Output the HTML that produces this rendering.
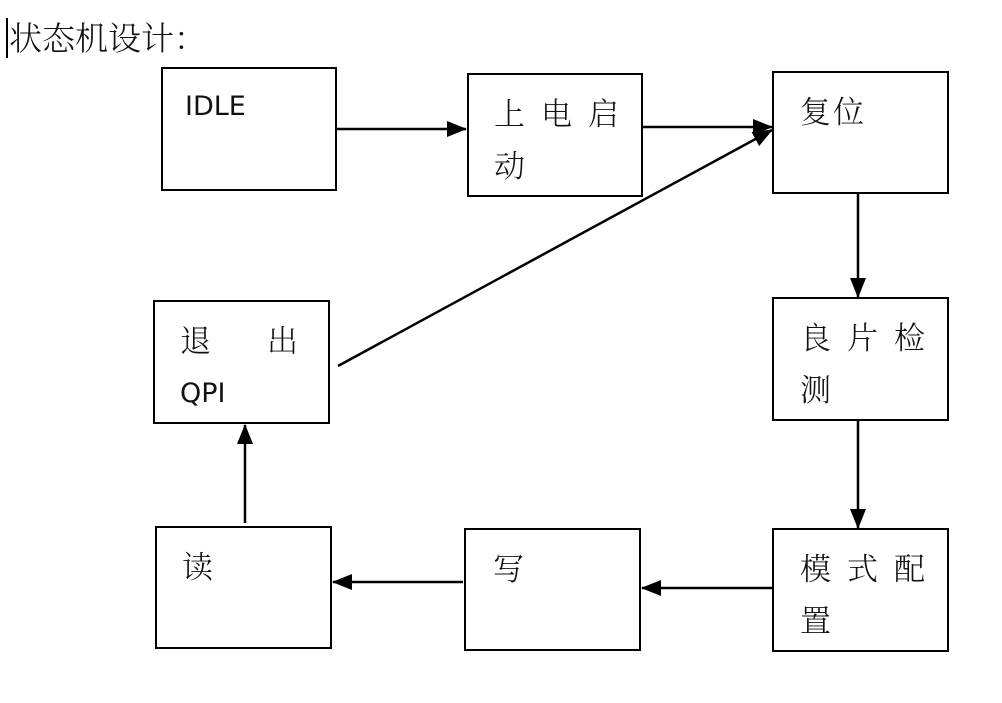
<!DOCTYPE html>
<html><head><meta charset="utf-8"><style>
body{margin:0;width:1002px;height:703px;background:#fff;position:relative;overflow:hidden;font-family:"Noto Serif CJK SC","Noto Sans CJK SC",serif;}
.t{position:absolute;font-size:31px;line-height:52px;color:#111;white-space:pre;letter-spacing:4px;font-weight:300;}
.b{position:absolute;border:2px solid #000;box-sizing:border-box;}
.lat{font-family:"DejaVu Sans","Liberation Sans",sans-serif;font-size:27px;letter-spacing:0;font-weight:normal;}
</style></head><body>
<div style="position:absolute;left:6px;top:18px;width:2px;height:40px;background:#000"></div>
<div class="t" style="left:9px;top:11px;font-size:33px;letter-spacing:0;">状态机设计：</div>
<div class="b" style="left:161px;top:67px;width:176px;height:124px"></div>
<div class="b" style="left:467px;top:73px;width:176px;height:124px"></div>
<div class="b" style="left:772px;top:71px;width:177px;height:123px"></div>
<div class="b" style="left:772px;top:297px;width:177px;height:124px"></div>
<div class="b" style="left:772px;top:528px;width:177px;height:124px"></div>
<div class="b" style="left:464px;top:528px;width:177px;height:123px"></div>
<div class="b" style="left:155px;top:526px;width:177px;height:123px"></div>
<div class="b" style="left:153px;top:300px;width:177px;height:124px"></div>
<div class="t lat" style="left:185px;top:81px;">IDLE</div>
<div class="t" style="left:494px;top:86px;">上 电 启
动</div>
<div class="t" style="left:800px;top:84px;letter-spacing:2px;">复位</div>
<div class="t" style="left:800px;top:310px;">良 片 检
测</div>
<div class="t" style="left:800px;top:541px;">模 式 配
置</div>
<div class="t" style="left:493px;top:541px;">写</div>
<div class="t" style="left:182px;top:539px;">读</div>
<div class="t" style="left:180px;top:313px;letter-spacing:0;">退       出</div>
<div class="t lat" style="left:180px;top:368px;">QPI</div>
<svg width="1002" height="703" style="position:absolute;left:0;top:0">
<defs>
<marker id="m" markerWidth="20" markerHeight="20" refX="19" refY="10" orient="auto" markerUnits="userSpaceOnUse" viewBox="0 0 20 20"><path d="M0,2L20,10L0,18z" fill="#000"/></marker></defs>
<g stroke="#000" stroke-width="2.5" fill="none">
<line x1="337" y1="129" x2="466" y2="129" marker-end="url(#m)"/>
<line x1="643" y1="127" x2="772" y2="127" marker-end="url(#m)"/>
<line x1="338" y1="366" x2="772" y2="130" marker-end="url(#m)"/>
<line x1="858" y1="194" x2="858" y2="297" marker-end="url(#m)"/>
<line x1="858" y1="421" x2="858" y2="528" marker-end="url(#m)"/>
<line x1="772" y1="588" x2="642" y2="588" marker-end="url(#m)"/>
<line x1="463" y1="582" x2="333" y2="582" marker-end="url(#m)"/>
<line x1="245" y1="523" x2="245" y2="425" marker-end="url(#m)"/>
</g></svg>
</body></html>
